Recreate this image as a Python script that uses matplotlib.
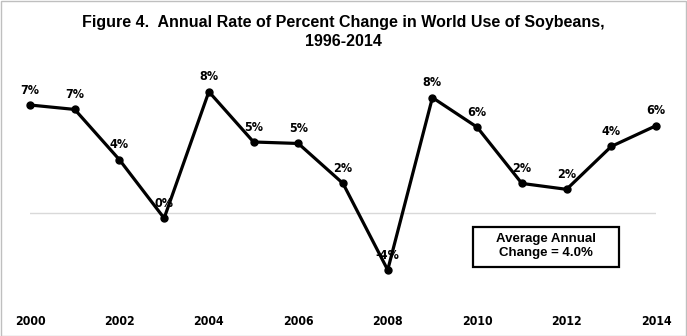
import matplotlib
matplotlib.use('Agg')
import matplotlib.pyplot as plt
from matplotlib import font_manager
from matplotlib.patches import Rectangle

# data
years = [2000, 2001, 2002, 2003, 2004, 2005, 2006, 2007,
         2008, 2009, 2010, 2011, 2012, 2013, 2014]
pct_change = [7.3, 7.0, 3.6, -0.35, 8.2, 4.8, 4.7, 2.0,
              -3.85, 7.8, 5.8, 2.0, 1.6, 4.5, 5.9]
point_labels = ['7%', '7%', '4%', '0%', '8%', '5%', '5%', '2%',
                '-4%', '8%', '6%', '2%', '2%', '4%', '6%']
tick_years = [2000, 2002, 2004, 2006, 2008, 2010, 2012, 2014]
title = 'Figure 4.  Annual Rate of Percent Change in World Use of Soybeans,\n1996-2014'
note = 'Average Annual\nChange = 4.0%'

# narrow font for the small labels, if there is one
names = {f.name for f in font_manager.fontManager.ttflist}
if 'Liberation Sans Narrow' in names:
    narrow = dict(family='Liberation Sans Narrow')
    tick_fs, lab_fs = 11, 10
else:
    narrow = dict(family='DejaVu Sans', fontstretch='condensed')
    tick_fs, lab_fs = 8.8, 9

W, H = 687, 336
fig = plt.figure(figsize=(W / 100, H / 100), dpi=100)
fig.patch.set_facecolor('white')

# outer grey border
fig.patches.append(Rectangle((0.5 / W, 0.5 / H), 1 - 1.5 / W, 1 - 1.5 / H,
                             transform=fig.transFigure, fill=False,
                             edgecolor='#bfbfbf', linewidth=1))

# axes placed by pixel: x 30..656, y 80..300 (from top)
ax = fig.add_axes([30 / W, (H - 300) / H, 626 / W, 220 / H])
ax.set_xlim(2000, 2014)
ax.set_ylim(-5.88, 8.99)
ax.patch.set_alpha(0)
for s in ax.spines.values():
    s.set_visible(False)

ax.plot([2000, 2014], [0, 0], color='#d9d9d9', linewidth=1, zorder=1)
ax.plot(years, pct_change, color='black', linewidth=2.3, marker='o',
        markersize=5, zorder=3, clip_on=False)

for x, y, lab in zip(years, pct_change, point_labels):
    ax.annotate(lab, (x, y), xytext=(0, 6), textcoords='offset points',
                ha='center', va='bottom', fontsize=lab_fs, fontweight='bold',
                **narrow)

ax.set_xticks(tick_years)
ax.set_xticklabels([str(y) for y in tick_years], fontsize=tick_fs,
                   fontweight='bold', **narrow)
ax.tick_params(axis='x', length=0, pad=11)
ax.set_yticks([])

fig.text(0.5, 1 - 32 / H, title, ha='center', va='center', fontsize=11.5,
         fontweight='bold', family='Liberation Sans', linespacing=1.3)

# note box
fig.patches.append(Rectangle((473 / W, 1 - 267 / H), 146 / W, 40 / H,
                             transform=fig.transFigure, facecolor='white',
                             edgecolor='black', linewidth=1.6, zorder=5))
fig.text(546 / W, 1 - 246 / H, note, ha='center', va='center', fontsize=9.5,
         fontweight='bold', family='Liberation Sans', linespacing=1.2,
         zorder=6)

fig.savefig('out.png', dpi=100)
